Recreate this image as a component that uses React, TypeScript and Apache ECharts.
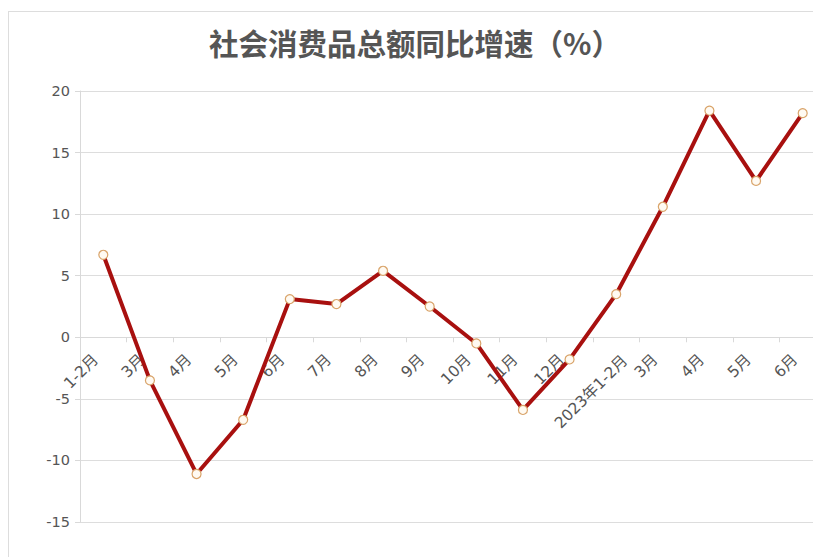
import React, { useEffect, useRef } from "react";
import * as echarts from "echarts";

const titleText = "社会消费品总额同比增速（%）";
const categories = ["1-2月", "3月", "4月", "5月", "6月", "7月", "8月", "9月", "10月", "11月", "12月", "2023年1-2月", "3月", "4月", "5月", "6月"];
const growthValues = [6.7, -3.5, -11.1, -6.7, 3.1, 2.7, 5.4, 2.5, -0.5, -5.9, -1.8, 3.5, 10.6, 18.4, 12.7, 18.2];
const yMin = -15;
const yMax = 20;
const yInterval = 5;

const FONT = '"DejaVu Sans", "Noto Sans CJK SC", sans-serif';
const TITLE_FONT = '"Noto Sans CJK SC", "Noto Sans", sans-serif';
const GRID_TOP = 79;
const GRID_HEIGHT = 431;

export default function App() {
  const ref = useRef<HTMLDivElement>(null);
  useEffect(() => {
    if (!ref.current) return;
    const chart = echarts.init(ref.current, undefined, { renderer: "svg" });
    const zeroOffset = -((0 - yMin) / (yMax - yMin)) * GRID_HEIGHT;
    chart.setOption({
      animation: false,
      backgroundColor: "#ffffff",
      title: {
        text: titleText,
        left: "center",
        top: 10,
        padding: [5, 0, 5, 12],
        textStyle: { color: "#555555", fontSize: 29.5, fontWeight: "bold", fontFamily: TITLE_FONT },
      },
      grid: { left: 71, top: GRID_TOP, width: 746, height: GRID_HEIGHT, containLabel: false, outerBoundsMode: "none" },
      xAxis: {
        type: "category",
        data: categories,
        boundaryGap: true,
        offset: zeroOffset,
        axisLine: { onZero: false, lineStyle: { color: "#d9d9d9", width: 1 } },
        axisTick: { show: true, length: 5, lineStyle: { color: "#d9d9d9" } },
        axisLabel: {
          rotate: 45,
          color: "#555555",
          fontSize: 15.5,
          fontFamily: FONT,
          interval: 0,
          margin: 12,
          formatter: (v: string) => (v.length > 5 ? `{b|${v}}` : `{a|${v}}`),
          rich: {
            a: { padding: [0, 11, 0, 0], color: "#555555", fontSize: 15.5, fontFamily: FONT },
            b: { padding: [25, 0, 0, 0], color: "#555555", fontSize: 15.5, fontFamily: FONT },
          },
        },
        splitLine: { show: false },
      },
      yAxis: {
        type: "value",
        min: yMin,
        max: yMax,
        interval: yInterval,
        axisLine: { show: true, lineStyle: { color: "#d9d9d9" } },
        axisTick: { show: true, length: 5, lineStyle: { color: "#d9d9d9" } },
        axisLabel: { color: "#555555", fontSize: 14.5, fontFamily: FONT, margin: 10 },
        splitLine: { show: true, lineStyle: { color: "#dddddd", width: 1 } },
      },
      series: [
        {
          type: "line",
          data: growthValues,
          symbol: "circle",
          symbolSize: 9,
          lineStyle: { color: "#a8100f", width: 4 },
          itemStyle: { color: "#fffaf2", borderColor: "#d9a46a", borderWidth: 1.2 },
          z: 3,
        },
      ],
    });
    return () => chart.dispose();
  }, []);
  return (
    <div style={{ borderTop: "1px solid #dddddd", borderLeft: "1px solid #dddddd", marginTop: 3, width: 813, height: 546, boxSizing: "border-box", overflow: "hidden" }}>
      <div ref={ref} style={{ width: 812, height: 545 }} />
    </div>
  );
}
